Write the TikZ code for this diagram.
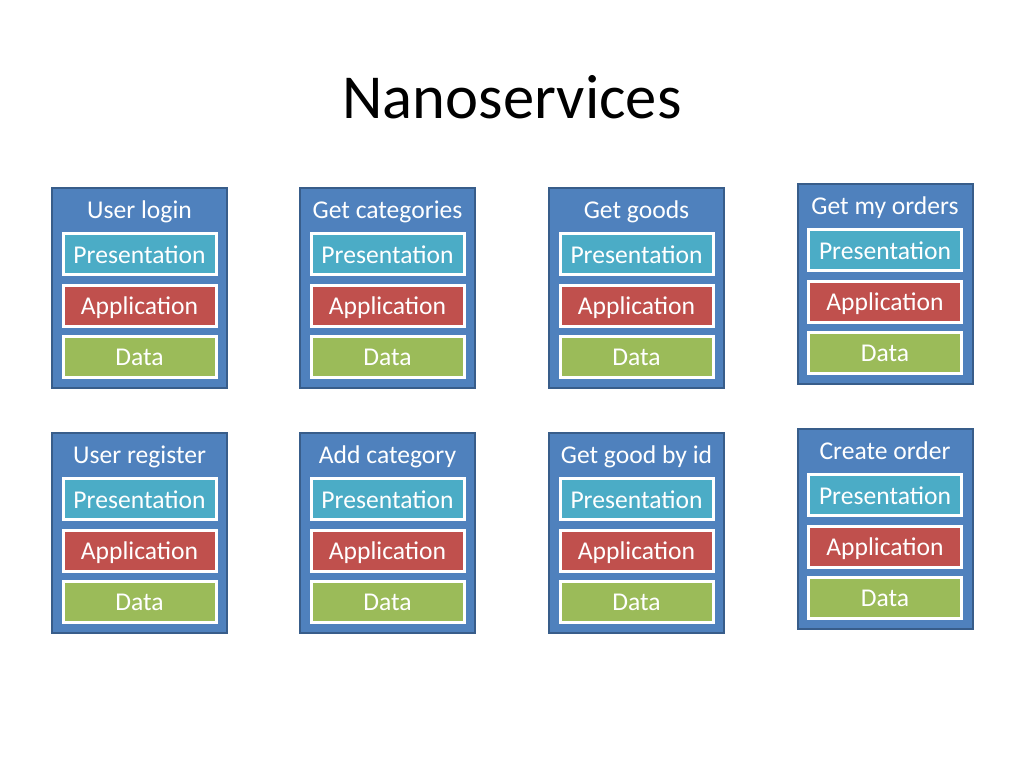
\documentclass[tikz,border=0pt]{standalone}
\usepackage{fontspec}
\setmainfont{Carlito}
\usetikzlibrary{shadows}

\definecolor{svcblue}{HTML}{4F81BD}
\definecolor{svcedge}{HTML}{385D8A}
\definecolor{presblue}{HTML}{4BACC6}
\definecolor{appred}{HTML}{C0504D}
\definecolor{datagreen}{HTML}{9BBB59}

\tikzset{
  svcbox/.style={draw=svcedge, fill=svcblue, line width=2pt, inner sep=0pt,
    minimum width=175pt, minimum height=200pt},
  svctext/.style={text=white, inner sep=0pt, text height=19pt, text depth=0.5pt,
    font=\fontsize{25.6}{30}\selectfont},
  layer/.style={svctext, draw=white, line width=3pt, minimum width=153pt, minimum height=41pt,
    drop shadow={shadow xshift=1pt, shadow yshift=-1.5pt, opacity=0.25}},
}

\begin{document}
\begin{tikzpicture}[x=1pt, y=-1pt]
	\useasboundingbox[fill=white] (0,0) rectangle (1024,768);
	\node[anchor=base, font=\fontsize{62.6}{75}\selectfont] (heading) at (512,118) {Nanoservices};
	\foreach \i/\x/\y/\name in {1/139.5/288/User login, 2/387.5/288/Get categories,
		3/636.5/288/Get goods, 4/885/284/Get my orders,
		5/139.5/533/User register, 6/387.5/533/Add category,
		7/636.5/533/Get good by id, 8/885/529/Create order}
	{
		\node[svcbox] (svc\i) at (\x,\y) {};
		\node[svctext] (t\i) at (\x,{\y-79}) {\name};
		\node[layer, fill=presblue] (p\i) at (\x,{\y-34}) {Presentation};
		\node[layer, fill=appred] (a\i) at (\x,{\y+17.5}) {Application};
		\node[layer, fill=datagreen] (d\i) at (\x,{\y+68.5}) {Data};
	}
\end{tikzpicture}
\end{document}
